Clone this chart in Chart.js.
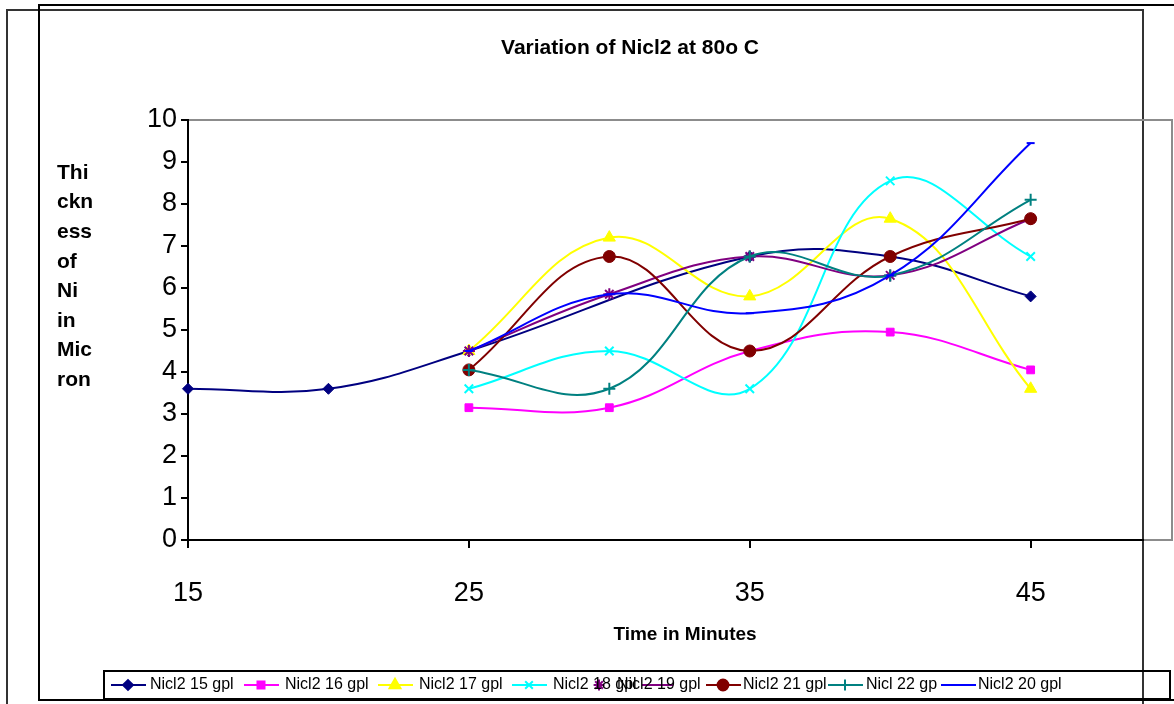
<!DOCTYPE html>
<html>
<head>
<meta charset="utf-8">
<script src="https://cdn.jsdelivr.net/npm/chart.js@4/dist/chart.umd.min.js"></script>
<style>
  html, body { margin: 0; padding: 0; background: #fff; }
  #wrap { width: 1174px; height: 704px; position: relative; }
</style>
</head>
<body>
<div id="wrap"><canvas id="c" width="1174" height="704"></canvas></div>
<script>
// ---- data ----
const times = [15, 20, 25, 30, 35, 40, 45];
const xTickValues = [15, 25, 35, 45];
const seriesNames = ['Nicl2 15 gpl', 'Nicl2 16 gpl', 'Nicl2 17 gpl', 'Nicl2 18 gpl', 'Nicl2 19 gpl', 'Nicl2 21 gpl', 'Nicl 22 gp', 'Nicl2 20 gpl'];
const s15 = [3.6, 3.6, 4.5, null, 6.75, 6.75, 5.8];
const s16 = [null, null, 3.15, 3.15, 4.5, 4.95, 4.05];
const s17 = [null, null, 4.5, 7.2, 5.8, 7.65, 3.6];
const s18 = [null, null, 3.6, 4.5, 3.6, 8.55, 6.75];
const s19 = [null, null, 4.5, 5.85, 6.75, 6.3, 7.65];
const s21 = [null, null, 4.05, 6.75, 4.5, 6.75, 7.65];
const s22 = [null, null, 4.05, 3.6, 6.75, 6.3, 8.1];
const s20 = [null, null, 4.5, 5.85, 5.4, 6.3, 9.45];
const titleText = 'Variation of Nicl2 at 80o C';
const xTitleText = 'Time in Minutes';
const yTitleLines = ['Thi', 'ckn', 'ess', 'of', 'Ni', 'in', 'Mic', 'ron'];

// ---- styles ----
const allSeries = [s15, s16, s17, s18, s19, s21, s22, s20];
const colors = ['#000080', '#FF00FF', '#FFFF00', '#00FFFF', '#800080', '#800000', '#008080', '#0000FF'];
const styles = ['rectRot', 'rect', 'triangle', 'crossRot', 'star', 'circle', 'cross', 'line'];
const radii = [5.5, 5.5, 7, 6, 6, 6, 6, 4];
const FONT = "'Liberation Sans', Arial, sans-serif";

function toPoints(vals) {
  const pts = [];
  vals.forEach((v, i) => { if (v !== null) pts.push({ x: times[i], y: v }); });
  return pts;
}

const isStroke = (s) => (s === 'crossRot' || s === 'cross' || s === 'star' || s === 'line');

const datasets = allSeries.map((vals, i) => ({
  label: seriesNames[i],
  data: toPoints(vals),
  borderColor: colors[i],
  backgroundColor: colors[i],
  borderWidth: 2,
  pointStyle: styles[i],
  pointRadius: radii[i],
  pointBorderWidth: isStroke(styles[i]) ? 2 : 1,
  pointBackgroundColor: colors[i],
  pointBorderColor: colors[i],
  tension: 0.4,
  fill: false,
  clip: false,
  order: allSeries.length - i
}));

function drawMarker(ctx, style, r, color, x, y) {
  ctx.save();
  ctx.fillStyle = color; ctx.strokeStyle = color; ctx.lineWidth = 2;
  if (Chart.helpers && Chart.helpers.drawPoint) {
    Chart.helpers.drawPoint(ctx, { pointStyle: style, radius: r, rotation: 0, borderWidth: isStroke(style) ? 2 : 1 }, x, y);
  } else {
    ctx.beginPath(); ctx.arc(x, y, r, 0, Math.PI * 2); ctx.fill();
  }
  ctx.restore();
}

const decor = {
  id: 'decor',
  beforeDraw(chart) {
    const ctx = chart.ctx;
    ctx.save();
    ctx.fillStyle = '#fff';
    ctx.fillRect(0, 0, chart.width, chart.height);
    // outer frames
    ctx.lineWidth = 2;
    ctx.strokeStyle = '#333';
    ctx.beginPath();
    ctx.moveTo(7, 704); ctx.lineTo(7, 10); ctx.lineTo(1143, 10); ctx.lineTo(1143, 704);
    ctx.stroke();
    ctx.strokeStyle = '#000';
    ctx.lineWidth = 2;
    ctx.beginPath();
    ctx.moveTo(1174, 5); ctx.lineTo(39, 5); ctx.lineTo(39, 700); ctx.lineTo(1174, 700);
    ctx.stroke();
    // plot area border (gray)
    const a = chart.chartArea;
    ctx.strokeStyle = '#8c8c8c';
    ctx.lineWidth = 2;
    ctx.strokeRect(a.left, a.top, 1172 - a.left, a.bottom - a.top);
    ctx.restore();
  },
  afterDraw(chart) {
    const ctx = chart.ctx;
    ctx.save();
    ctx.fillStyle = '#000';
    // title
    ctx.font = 'bold 21px ' + FONT;
    ctx.textAlign = 'center';
    ctx.textBaseline = 'middle';
    ctx.fillText(titleText, 630, 48);
    // x title
    ctx.font = 'bold 19px ' + FONT;
    ctx.fillText(xTitleText, 685, 635);
    // y title
    ctx.font = 'bold 21px ' + FONT;
    ctx.textAlign = 'left';
    yTitleLines.forEach((t, i) => ctx.fillText(t, 57, 173 + i * 29.6));
    // legend box
    ctx.strokeStyle = '#000';
    ctx.lineWidth = 2;
    ctx.strokeRect(104, 671, 1066, 28);
    const ly = 685;
    const lineStarts = [111, 244, 378, 512, 582, 706, 828, 941];
    const textStarts = [150, 285, 419, 553, 617, 743, 866, 978];
    ctx.font = '16px ' + FONT;
    ctx.textBaseline = 'middle';
    seriesNames.forEach((name, i) => {
      const x0 = lineStarts[i];
      ctx.strokeStyle = colors[i];
      ctx.lineWidth = 2;
      ctx.beginPath();
      if (i === 4) { ctx.moveTo(642, ly); ctx.lineTo(673, ly); }
      else { ctx.moveTo(x0, ly); ctx.lineTo(x0 + 35, ly); }
      ctx.stroke();
      drawMarker(ctx, styles[i], radii[i] * 0.9, colors[i], x0 + 17, ly);
    });
    seriesNames.forEach((name, i) => {
      ctx.fillStyle = '#000';
      ctx.fillText(name, textStarts[i], ly);
    });
    ctx.restore();
  }
};

new Chart(document.getElementById('c'), {
  type: 'line',
  data: { datasets },
  plugins: [decor],
  options: {
    responsive: false,
    animation: false,
    events: [],
    layout: { padding: { left: 0, top: 120, right: 31, bottom: 0 } },
    plugins: { legend: { display: false }, title: { display: false }, tooltip: { enabled: false } },
    scales: {
      x: {
        type: 'linear',
        min: 15, max: 49,
        afterBuildTicks: (s) => { s.ticks = xTickValues.map(v => ({ value: v })); },
        afterFit: (s) => { s.height = 164; },
        ticks: { font: { size: 27, family: FONT }, color: '#000', padding: 29, maxRotation: 0, autoSkip: false },
        grid: { drawOnChartArea: false, drawTicks: true, tickLength: 8, color: '#000', lineWidth: 2 },
        border: { color: '#000', width: 2 }
      },
      y: {
        min: 0, max: 10,
        afterFit: (s) => { s.width = 188; },
        ticks: { stepSize: 1, font: { size: 27, family: FONT }, color: '#000', padding: 4 },
        grid: { drawOnChartArea: false, drawTicks: true, tickLength: 7, color: '#000', lineWidth: 2 },
        border: { color: '#000', width: 2 }
      }
    }
  }
});
</script>
</body>
</html>
